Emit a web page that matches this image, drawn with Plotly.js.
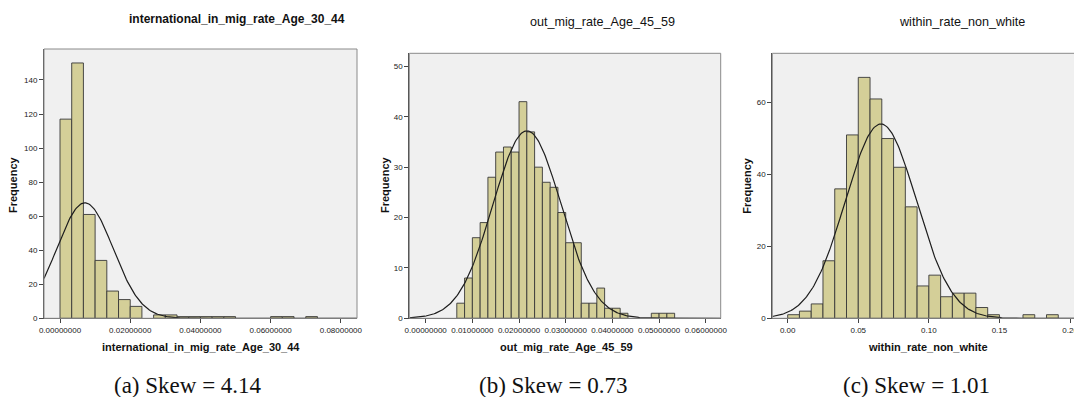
<!DOCTYPE html>
<html>
<head>
<meta charset="utf-8">
<script src="https://cdn.plot.ly/plotly-3.0.1.min.js"></script>
<style>
html,body{margin:0;padding:0;overflow:hidden;background:#fff;}
#chart{width:1090px;height:397px;}
</style>
</head>
<body>
<div id="chart"></div>
<script>
// ---------------- data ----------------
const titles = ["international_in_mig_rate_Age_30_44", "out_mig_rate_Age_45_59", "within_rate_non_white"];
const captions = ["(a) Skew = 4.14", "(b) Skew = 0.73", "(c) Skew = 1.01"];

// bin width and counts (bins start at 0)
const binWidth1 = 1 / 300;
const counts1 = [117, 150, 61, 34, 16, 11, 7, 0, 2, 2, 1, 1, 1, 1, 1, 0, 0, 0, 1, 1, 0, 1];
const binWidth2 = 1 / 600;
const counts2 = [0, 0, 0, 0, 3, 8, 16, 19, 28, 33, 34, 33, 43, 37, 30, 27, 26, 21, 15, 15, 3, 3, 6, 2, 2, 1, 0, 0, 0, 1, 1, 1];
const binWidth3 = 1 / 120;
const counts3 = [1, 2, 4, 16, 36, 51, 67, 61, 50, 42, 31, 9, 12, 6, 7, 7, 3, 1, 0, 0, 1, 0, 1];

// fitted normal curve parameters (mean, std dev)
const mean1 = 0.0071, sd1 = 0.0080;
const mean2 = 0.0217, sd2 = 0.00729;
const mean3 = 0.0660, sd3 = 0.0251;

const xTicks1 = [0, 0.02, 0.04, 0.06, 0.08];
const xTicks2 = [0, 0.01, 0.02, 0.03, 0.04, 0.05, 0.06];
const xTicks3 = [0, 0.05, 0.10, 0.15, 0.20];
const yTicks1 = [0, 20, 40, 60, 80, 100, 120, 140];
const yTicks2 = [0, 10, 20, 30, 40, 50];
const yTicks3 = [0, 20, 40, 60];

// ---------------- layout helpers ----------------
const W = 1090, H = 397;
const px = v => v / W;
const py = v => 1 - v / H;

const panels = [
  {counts: counts1, bw: binWidth1, mean: mean1, sd: sd1, xTicks: xTicks1, yTicks: yTicks1, fmt: ".8f",
   xr: [-0.00456, 0.0846], yr: [0, 158.2], box: [44, 357, 49, 318.3],
   titleX: 236.5, titleY: 18.5, titleBold: true, titleSize: 12, xtX: 201, ytX: 13, capX: 188},
  {counts: counts2, bw: binWidth2, mean: mean2, sd: sd2, xTicks: xTicks2, yTicks: yTicks2, fmt: ".8f",
   xr: [-0.00351, 0.0632], yr: [0, 52.6], box: [409.3, 720.7, 53.3, 318.3],
   titleX: 603, titleY: 22, titleBold: false, titleSize: 12.6, xtX: 566, ytX: 385, capX: 552.5},
  {counts: counts3, bw: binWidth3, mean: mean3, sd: sd3, xTicks: xTicks3, yTicks: yTicks3, fmt: ".2f",
   xr: [-0.0109, 0.2101], yr: [0, 73.7], box: [772.3, 1084.3, 53.3, 318.3],
   titleX: 962, titleY: 22, titleBold: false, titleSize: 12.6, xtX: 928, ytX: 746.7, capX: 916.7}
];

const traces = [];
const layout = {
  width: W, height: H,
  margin: {l: 0, r: 0, t: 0, b: 0},
  paper_bgcolor: "#ffffff",
  plot_bgcolor: "#f0f0f0",
  showlegend: false,
  font: {family: "Liberation Sans, Arial, sans-serif", size: 8, color: "#222"},
  shapes: [],
  annotations: [],
  bargap: 0
};

panels.forEach((p, i) => {
  const n = i + 1;
  const xa = n === 1 ? "x" : "x" + n;
  const ya = n === 1 ? "y" : "y" + n;
  const N = p.counts.reduce((a, b) => a + b, 0);
  const bx = [], by = [];
  p.counts.forEach((c, k) => { if (c > 0) { bx.push((k + 0.5) * p.bw); by.push(c); } });
  traces.push({
    type: "bar", x: bx, y: by, width: p.bw, xaxis: xa, yaxis: ya,
    marker: {color: "rgb(212,207,152)", line: {color: "#383838", width: 0.9}},
    hoverinfo: "skip"
  });
  const cx = [], cy = [];
  const steps = 300;
  for (let s = 0; s <= steps; s++) {
    const x = p.xr[0] + (p.xr[1] - p.xr[0]) * s / steps;
    const z = (x - p.mean) / p.sd;
    cx.push(x);
    cy.push(N * p.bw * Math.exp(-0.5 * z * z) / (p.sd * Math.sqrt(2 * Math.PI)));
  }
  traces.push({
    type: "scatter", mode: "lines", x: cx, y: cy, xaxis: xa, yaxis: ya,
    line: {color: "#1e1e1e", width: 1.2}, hoverinfo: "skip", cliponaxis: true
  });

  const [l, r, t, b] = p.box;
  layout["xaxis" + (n === 1 ? "" : n)] = {
    domain: [px(l), px(r)], anchor: ya, range: p.xr,
    tickvals: p.xTicks, tickformat: p.fmt,
    ticks: "outside", ticklen: 4, tickcolor: "#444", tickwidth: 1,
    showline: true, linecolor: "#4a4a4a", linewidth: 1,
    showgrid: false, zeroline: false, fixedrange: true,
    tickfont: {size: 8, color: "#222"}
  };
  layout["yaxis" + (n === 1 ? "" : n)] = {
    domain: [py(b), py(t)], anchor: xa, range: p.yr,
    tickvals: p.yTicks,
    ticks: "outside", ticklen: 4, tickcolor: "#444", tickwidth: 1,
    showline: true, linecolor: "#4a4a4a", linewidth: 1,
    showgrid: false, zeroline: false, fixedrange: true,
    tickfont: {size: 8, color: "#222"}
  };
  layout.shapes.push({
    type: "rect", xref: xa + " domain", yref: ya + " domain",
    x0: 0, x1: 1, y0: 0, y1: 1, line: {color: "#8a8a8a", width: 1}, layer: "above"
  });

  layout.annotations.push({
    text: p.titleBold ? "<b>" + titles[i] + "</b>" : titles[i],
    xref: "paper", yref: "paper", x: px(p.titleX), y: py(p.titleY),
    xanchor: "center", yanchor: "middle", showarrow: false,
    font: {size: p.titleSize, color: "#111"}
  });
  layout.annotations.push({
    text: "<b>" + titles[i] + "</b>",
    xref: "paper", yref: "paper", x: px(p.xtX), y: py(346.5),
    xanchor: "center", yanchor: "middle", showarrow: false,
    font: {size: 11, color: "#111"}
  });
  layout.annotations.push({
    text: "<b>Frequency</b>", textangle: -90,
    xref: "paper", yref: "paper", x: px(p.ytX), y: py(185),
    xanchor: "center", yanchor: "middle", showarrow: false,
    font: {size: 11, color: "#111"}
  });
  layout.annotations.push({
    text: captions[i],
    xref: "paper", yref: "paper", x: px(p.capX), y: py(385),
    xanchor: "center", yanchor: "middle", showarrow: false,
    font: {family: "Liberation Serif, Times New Roman, serif", size: 23, color: "#111"}
  });
});

Plotly.newPlot("chart", traces, layout, {staticPlot: true, displayModeBar: false});
</script>
</body>
</html>
